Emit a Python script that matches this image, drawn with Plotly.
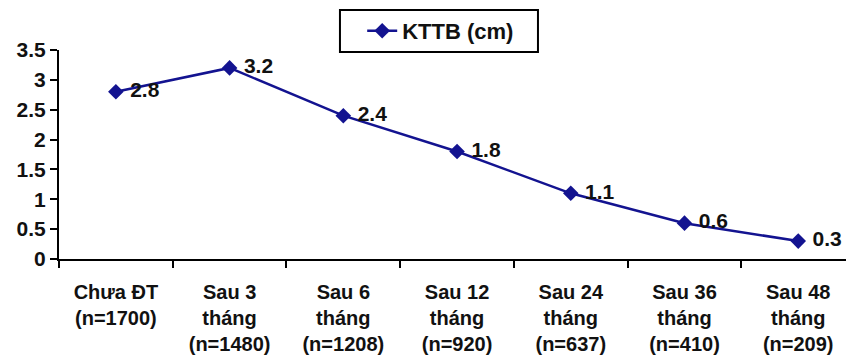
import plotly.graph_objects as go

# Mean tumour size (cm) across follow-up visits
categories = [
    "Chưa ĐT<br>(n=1700)",
    "Sau 3<br>tháng<br>(n=1480)",
    "Sau 6<br>tháng<br>(n=1208)",
    "Sau 12<br>tháng<br>(n=920)",
    "Sau 24<br>tháng<br>(n=637)",
    "Sau 36<br>tháng<br>(n=410)",
    "Sau 48<br>tháng<br>(n=209)",
]
kttb_cm = [2.8, 3.2, 2.4, 1.8, 1.1, 0.6, 0.3]
series_name = "KTTB (cm)"
y_ticks = [0, 0.5, 1, 1.5, 2, 2.5, 3, 3.5]
y_tick_text = ["0", "0.5", "1", "1.5", "2", "2.5", "3", "3.5"]

NAVY = "#131390"
INK = "#111111"
FONT = "Liberation Sans, Arial, sans-serif"


def bold(size):
    return dict(family=FONT, size=size, color=INK, weight="bold")


fig = go.Figure(
    go.Scatter(
        x=categories,
        y=kttb_cm,
        name=series_name,
        mode="lines+markers+text",
        line=dict(color=NAVY, width=2.5),
        marker=dict(symbol="diamond", size=12, color=NAVY),
        text=[f" {v:g}" for v in kttb_cm],
        textposition="middle right",
        textfont=bold(21),
    )
)

# Frame around the legend entry
fig.add_shape(
    type="rect",
    xref="paper",
    yref="paper",
    x0=0.357,
    x1=0.6086,
    y0=0.9904,
    y1=1.1914,
    line=dict(color="black", width=2),
    fillcolor="white",
    layer="below",
)

fig.update_layout(
    width=846,
    height=362,
    margin=dict(l=59, r=0, t=50, b=103),
    paper_bgcolor="white",
    plot_bgcolor="white",
    font=bold(20),
    showlegend=True,
    legend=dict(
        x=0.485,
        y=1.091,
        xanchor="center",
        yanchor="middle",
        borderwidth=0,
        bgcolor="rgba(0,0,0,0)",
        font=bold(22),
    ),
    xaxis=dict(
        type="category",
        range=[-0.5, 6.42],
        showgrid=False,
        showline=True,
        linecolor="black",
        linewidth=2,
        ticks="outside",
        tickson="boundaries",
        ticklen=7,
        tickwidth=2,
        tickcolor="black",
        ticklabelstandoff=14,
        tickfont=bold(20),
    ),
    yaxis=dict(
        range=[0, 3.5],
        tickvals=y_ticks,
        ticktext=y_tick_text,
        showgrid=False,
        zeroline=False,
        showline=True,
        linecolor="black",
        linewidth=2,
        ticks="outside",
        ticklen=7,
        tickwidth=2,
        tickcolor="black",
        tickfont=bold(21),
    ),
)

fig.write_html("out.html")
